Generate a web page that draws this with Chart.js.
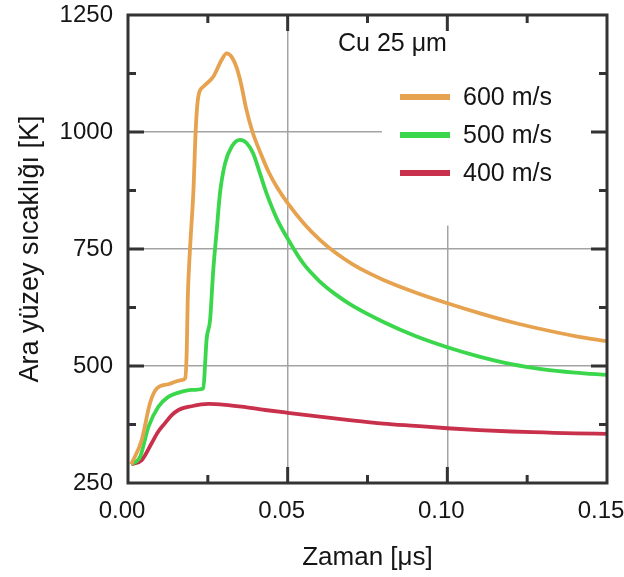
<!DOCTYPE html>
<html>
<head>
<meta charset="utf-8">
<script src="https://cdn.jsdelivr.net/npm/chart.js@4/dist/chart.umd.min.js"></script>
<style>
  html, body { margin: 0; padding: 0; background: #ffffff; }
  #wrap { width: 624px; height: 577px; }
</style>
</head>
<body>
<div id="wrap"><canvas id="c" width="624" height="577"></canvas></div>
<script>
// ---- data ----
const seriesLabels = ['600 m/s', '500 m/s', '400 m/s'];
const panelNote = 'Cu 25 μm';
const xTitle = 'Zaman [μs]';
const yTitle = 'Ara yüzey sıcaklığı [K]';

const time600 = [0.001, 0.0043, 0.0069, 0.009, 0.0126, 0.0168, 0.0179, 0.0184, 0.0187, 0.0194, 0.0205, 0.0212, 0.022, 0.0236, 0.0267, 0.0293, 0.0309, 0.0325, 0.0340, 0.0355, 0.0370, 0.0390, 0.0415, 0.0440, 0.0470, 0.0500, 0.0550, 0.0600, 0.0650, 0.0700, 0.0750, 0.0800, 0.0900, 0.1000, 0.1100, 0.1200, 0.1300, 0.1400, 0.1500];
const temp600 = [290, 342, 421, 452, 461, 470, 474, 534, 641, 748, 876, 1004, 1075, 1097, 1118, 1154, 1168, 1160, 1138, 1100, 1050, 1000, 955, 915, 878, 848, 805, 770, 742, 719, 700, 684, 657, 634, 613, 594, 578, 564, 553];

const time500 = [0.001, 0.0038, 0.0064, 0.0095, 0.0126, 0.0158, 0.0199, 0.0236, 0.0241, 0.0246, 0.0257, 0.0267, 0.0278, 0.0288, 0.0304, 0.0325, 0.0351, 0.0372, 0.0392, 0.0413, 0.0434, 0.0466, 0.0500, 0.0550, 0.0600, 0.0650, 0.0700, 0.0800, 0.0900, 0.1000, 0.1100, 0.1200, 0.1300, 0.1400, 0.1500];
const temp500 = [290, 306, 370, 413, 434, 443, 449, 452, 499, 556, 598, 705, 791, 869, 933, 969, 983, 976, 954, 912, 869, 815, 772, 718, 681, 653, 630, 594, 564, 540, 520, 504, 493, 486, 481];

const time400 = [0.001, 0.0043, 0.0074, 0.0095, 0.0116, 0.0137, 0.0158, 0.0199, 0.0252, 0.0304, 0.0356, 0.0429, 0.0500, 0.0600, 0.0700, 0.0800, 0.0900, 0.1000, 0.1100, 0.1200, 0.1300, 0.1400, 0.1500];
const temp400 = [290, 299, 335, 360, 378, 395, 406, 414, 419, 417, 413, 406, 400, 392, 384, 377, 372, 367, 363, 360, 358, 356, 355];

const xTicksMajor = [0.05, 0.10];
const yTicksMajor = [500, 750, 1000];

// ---- styling ----
const colors = ['#e6a24e', '#3ad64c', '#c8304c'];
const FONT = '"Liberation Sans", Arial, sans-serif';
const INK = '#151515';

function pts(xs, ys) { return xs.map((x, i) => ({ x: x, y: ys[i] })); }

const near = (v, arr) => arr.some(a => Math.abs(a - v) < 1e-6);

const framePlugin = {
  id: 'framePlugin',
  beforeDatasetsDraw(chart) {
    const { ctx } = chart;
    const xs = chart.scales.x, ys = chart.scales.y;
    // white backing behind the legend block (covers grid lines there)
    const x0 = xs.getPixelForValue(0.0795), x1 = chart.chartArea.right;
    const y0 = chart.chartArea.top, y1 = ys.getPixelForValue(800);
    ctx.save();
    ctx.fillStyle = '#ffffff';
    ctx.fillRect(x0, y0, x1 - x0, y1 - y0);
    ctx.restore();
  },
  afterDraw(chart) {
    const { ctx, chartArea: a } = chart;
    const xs = chart.scales.x, ys = chart.scales.y;
    ctx.save();
    ctx.strokeStyle = '#333333';
    ctx.lineWidth = 3;
    ctx.lineCap = 'butt';
    // inward tick marks
    xs.ticks.forEach(t => {
      if (t.value <= 1e-9 || t.value >= 0.15 - 1e-9) return;
      const len = near(t.value, xTicksMajor) ? 16 : 8;
      const px = xs.getPixelForValue(t.value);
      ctx.beginPath();
      ctx.moveTo(px, a.bottom); ctx.lineTo(px, a.bottom - len);
      ctx.moveTo(px, a.top); ctx.lineTo(px, a.top + len);
      ctx.stroke();
    });
    ys.ticks.forEach(t => {
      if (t.value <= 250 || t.value >= 1250) return;
      const len = near(t.value, yTicksMajor) ? 16 : 8;
      const py = ys.getPixelForValue(t.value);
      ctx.beginPath();
      ctx.moveTo(a.left, py); ctx.lineTo(a.left + len, py);
      ctx.moveTo(a.right, py); ctx.lineTo(a.right - len, py);
      ctx.stroke();
    });
    // frame
    ctx.strokeRect(a.left, a.top, a.right - a.left, a.bottom - a.top);

    // legend block
    ctx.fillStyle = INK;
    ctx.textBaseline = 'middle';
    ctx.textAlign = 'left';
    ctx.font = '25px ' + FONT;
    ctx.fillText(panelNote, 338, 44);
    const rows = [97, 135, 173];
    chart.data.datasets.forEach((ds, i) => {
      ctx.strokeStyle = ds.borderColor;
      ctx.lineWidth = 6;
      ctx.beginPath();
      ctx.moveTo(400, rows[i]); ctx.lineTo(450, rows[i]);
      ctx.stroke();
      ctx.fillStyle = INK;
      ctx.fillText(ds.label, 463, rows[i] + 1);
    });
    ctx.restore();
  }
};

new Chart(document.getElementById('c'), {
  type: 'line',
  data: {
    datasets: [
      { label: seriesLabels[0], data: pts(time600, temp600), borderColor: colors[0] },
      { label: seriesLabels[1], data: pts(time500, temp500), borderColor: colors[1] },
      { label: seriesLabels[2], data: pts(time400, temp400), borderColor: colors[2] }
    ].map(d => Object.assign(d, {
      borderWidth: 3.8, pointRadius: 0, fill: false,
      cubicInterpolationMode: 'monotone', backgroundColor: d.borderColor
    }))
  },
  options: {
    responsive: false,
    animation: false,
    layout: { padding: { top: 15, right: 17, left: 0, bottom: 0 } },
    plugins: { legend: { display: false }, tooltip: { enabled: false } },
    scales: {
      x: {
        type: 'linear', min: 0, max: 0.15,
        border: { display: false },
        grid: {
          drawTicks: false, lineWidth: 1.5,
          color: c => (c.tick && near(c.tick.value, xTicksMajor)) ? '#a3a3a3' : 'rgba(0,0,0,0)'
        },
        ticks: {
          stepSize: 0.025, autoSkip: false, maxRotation: 0, padding: 14, labelOffset: -6,
          color: INK, font: { family: FONT, size: 24 },
          callback: (v, i) => (i % 2 === 0 ? Number(v).toFixed(2) : '')
        },
        title: { display: true, text: xTitle, color: INK, font: { family: FONT, size: 26 }, padding: { top: 0, bottom: 4 } },
        afterFit: s => { s.height = 94; s.paddingLeft = 0; s.paddingRight = 0; }
      },
      y: {
        type: 'linear', min: 250, max: 1250,
        border: { display: false },
        grid: {
          drawTicks: false, lineWidth: 1.5,
          color: c => (c.tick && near(c.tick.value, yTicksMajor)) ? '#a3a3a3' : 'rgba(0,0,0,0)'
        },
        ticks: {
          stepSize: 125, autoSkip: false, padding: 15,
          color: INK, font: { family: FONT, size: 24 },
          callback: v => (v % 250 === 0 ? String(v) : '')
        },
        title: { display: true, text: yTitle, color: INK, font: { family: FONT, size: 27 }, padding: { top: 14, bottom: 0 } },
        afterFit: s => { s.width = 128; s.paddingTop = 0; s.paddingBottom = 0; }
      }
    }
  },
  plugins: [framePlugin]
});
</script>
</body>
</html>
